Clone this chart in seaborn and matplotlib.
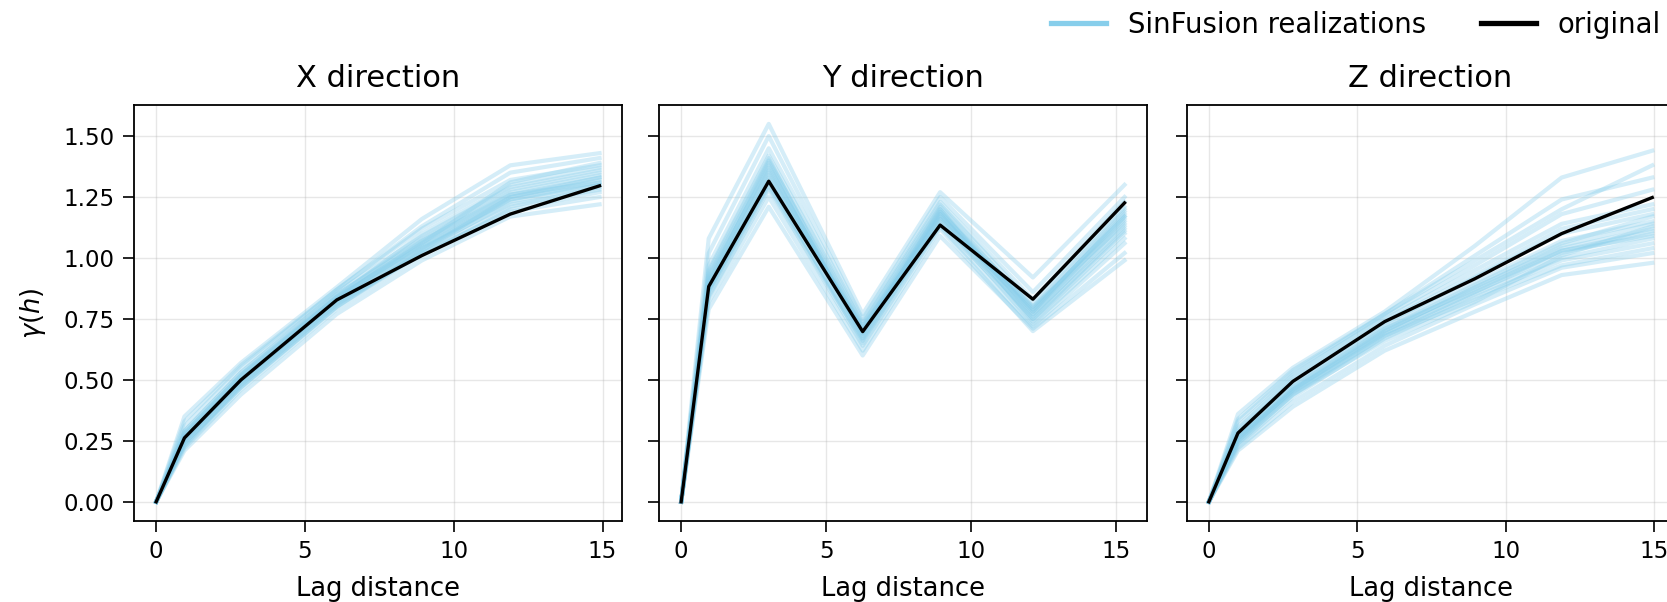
import numpy as np
import pandas as pd
import matplotlib
matplotlib.use("Agg")
import matplotlib.pyplot as plt
from matplotlib.lines import Line2D
import seaborn as sns

# ---------------- data ----------------
directions = ["X direction", "Y direction", "Z direction"]

lags_x = [0, 0.95, 2.85, 6.07, 8.93, 11.90, 14.90]
lags_y = [0, 0.95, 3.02, 6.26, 8.93, 12.13, 15.29]
lags_z = [0, 0.98, 2.83, 5.92, 8.96, 11.88, 14.93]

orig_x = [0, 0.262, 0.500, 0.828, 1.010, 1.180, 1.296]
orig_y = [0, 0.883, 1.315, 0.698, 1.135, 0.831, 1.226]
orig_z = [0, 0.282, 0.494, 0.739, 0.915, 1.100, 1.248]

real_x = [
    [0, 0.25, 0.49, 0.82, 1.04, 1.24, 1.31],
    [0, 0.27, 0.51, 0.84, 1.06, 1.26, 1.33],
    [0, 0.23, 0.47, 0.80, 1.02, 1.21, 1.29],
    [0, 0.29, 0.53, 0.86, 1.09, 1.29, 1.36],
    [0, 0.26, 0.50, 0.83, 1.05, 1.25, 1.32],
    [0, 0.24, 0.48, 0.81, 1.03, 1.23, 1.30],
    [0, 0.28, 0.52, 0.85, 1.08, 1.28, 1.35],
    [0, 0.22, 0.46, 0.79, 1.01, 1.20, 1.27],
    [0, 0.31, 0.55, 0.87, 1.12, 1.32, 1.38],
    [0, 0.35, 0.57, 0.88, 1.16, 1.38, 1.43],
    [0, 0.21, 0.44, 0.77, 0.99, 1.17, 1.22],
    [0, 0.26, 0.49, 0.83, 1.07, 1.27, 1.34],
    [0, 0.25, 0.51, 0.84, 1.05, 1.24, 1.30],
    [0, 0.27, 0.50, 0.82, 1.04, 1.22, 1.28],
    [0, 0.33, 0.56, 0.87, 1.13, 1.35, 1.41],
    [0, 0.24, 0.47, 0.80, 1.03, 1.25, 1.33],
    [0, 0.28, 0.52, 0.84, 1.10, 1.30, 1.37],
    [0, 0.23, 0.48, 0.81, 1.02, 1.19, 1.25],
    [0, 0.29, 0.53, 0.85, 1.07, 1.26, 1.31],
    [0, 0.26, 0.50, 0.83, 1.06, 1.31, 1.39],
]

real_y = [
    [0, 0.88, 1.33, 0.69, 1.17, 0.78, 1.18],
    [0, 0.90, 1.36, 0.71, 1.19, 0.80, 1.20],
    [0, 0.86, 1.30, 0.67, 1.15, 0.76, 1.15],
    [0, 0.93, 1.40, 0.72, 1.21, 0.79, 1.17],
    [0, 0.84, 1.28, 0.66, 1.14, 0.75, 1.12],
    [0, 0.95, 1.42, 0.73, 1.22, 0.81, 1.21],
    [0, 0.89, 1.35, 0.70, 1.18, 0.77, 1.16],
    [0, 0.91, 1.38, 0.68, 1.20, 0.74, 1.10],
    [0, 1.02, 1.50, 0.75, 1.25, 0.86, 1.25],
    [0, 1.08, 1.55, 0.77, 1.27, 0.92, 1.30],
    [0, 0.79, 1.21, 0.60, 1.09, 0.71, 1.02],
    [0, 0.87, 1.32, 0.65, 1.16, 0.73, 1.08],
    [0, 0.92, 1.37, 0.69, 1.19, 0.78, 1.19],
    [0, 0.85, 1.29, 0.64, 1.13, 0.72, 1.06],
    [0, 0.97, 1.45, 0.74, 1.23, 0.83, 1.23],
    [0, 0.88, 1.34, 0.70, 1.17, 0.80, 1.14],
    [0, 0.82, 1.25, 0.62, 1.12, 0.70, 0.99],
    [0, 0.90, 1.39, 0.71, 1.20, 0.77, 1.13],
    [0, 0.94, 1.41, 0.67, 1.18, 0.75, 1.11],
    [0, 0.87, 1.31, 0.72, 1.16, 0.79, 1.17],
]

real_z = [
    [0, 0.26, 0.46, 0.70, 0.88, 1.04, 1.12],
    [0, 0.24, 0.44, 0.68, 0.85, 1.00, 1.08],
    [0, 0.28, 0.48, 0.72, 0.90, 1.07, 1.15],
    [0, 0.22, 0.41, 0.64, 0.81, 0.96, 1.02],
    [0, 0.30, 0.51, 0.75, 0.95, 1.14, 1.22],
    [0, 0.25, 0.45, 0.69, 0.86, 1.02, 1.10],
    [0, 0.27, 0.47, 0.71, 0.89, 1.06, 1.17],
    [0, 0.33, 0.53, 0.77, 1.01, 1.24, 1.33],
    [0, 0.36, 0.55, 0.78, 1.05, 1.33, 1.44],
    [0, 0.21, 0.39, 0.62, 0.78, 0.93, 0.98],
    [0, 0.26, 0.47, 0.71, 0.87, 1.03, 1.09],
    [0, 0.29, 0.49, 0.73, 0.92, 1.10, 1.18],
    [0, 0.23, 0.43, 0.67, 0.84, 0.99, 1.06],
    [0, 0.31, 0.52, 0.76, 0.97, 1.18, 1.28],
    [0, 0.25, 0.46, 0.70, 0.88, 1.05, 1.14],
    [0, 0.27, 0.45, 0.68, 0.83, 0.97, 1.04],
    [0, 0.34, 0.54, 0.77, 0.99, 1.20, 1.38],
    [0, 0.24, 0.44, 0.66, 0.82, 1.01, 1.13],
    [0, 0.28, 0.50, 0.74, 0.93, 1.12, 1.20],
    [0, 0.26, 0.46, 0.69, 0.86, 1.03, 1.11],
]

yticks = [0.00, 0.25, 0.50, 0.75, 1.00, 1.25, 1.50]
xticks = [0, 5, 10, 15]

# ---------------- figure ----------------
W, H, DPI = 1667, 602, 100
fig = plt.figure(figsize=(W / DPI, H / DPI), dpi=DPI)

plt.rcParams["font.family"] = ["DejaVu Sans"]

axw = 487.7 / W
axh = 415.7 / H
axb = 81.3 / H
lefts = [134 / W, 659 / W, 1186.7 / W]

blue = "#87CEEB"
panels = [(lags_x, orig_x, real_x), (lags_y, orig_y, real_y), (lags_z, orig_z, real_z)]

axes = []
for i, (title, (lags, orig, real)) in enumerate(zip(directions, panels)):
    ax = fig.add_axes([lefts[i], axb, axw, axh])
    axes.append(ax)
    rows = []
    for r, vals in enumerate(real):
        for lag, v in zip(lags, vals):
            rows.append({"lag": lag, "gamma": v, "real": r})
    df = pd.DataFrame(rows)
    sns.lineplot(data=df, x="lag", y="gamma", units="real", estimator=None,
                 color=blue, alpha=0.35, lw=3.0, ax=ax, legend=False)
    dfo = pd.DataFrame({"lag": lags, "gamma": orig})
    sns.lineplot(data=dfo, x="lag", y="gamma", color="black", lw=2.4, ax=ax,
                 legend=False)
    ax.set_ylim(-0.0775, 1.6275)
    ax.set_yticks(yticks)
    ax.set_xticks(xticks)
    ax.grid(True, color="#b0b0b0", alpha=0.3, lw=1.0)
    ax.set_axisbelow(True)
    ax.set_title(title, fontsize=22, pad=13)
    ax.set_xlabel("Lag distance", fontsize=18.5, labelpad=9)
    ax.tick_params(labelsize=16.5, length=8, width=1.2, pad=6)
    for s in ax.spines.values():
        s.set_linewidth(1.3)
    if i == 0:
        ax.set_ylabel(r"$\gamma(h)$", fontsize=18.5, labelpad=11)
        ax.yaxis.set_major_formatter(matplotlib.ticker.FormatStrFormatter("%.2f"))
    else:
        ax.set_ylabel("")
        ax.set_yticklabels([])

handles = [Line2D([0], [0], color=blue, lw=3.8),
           Line2D([0], [0], color="black", lw=3.8)]
fig.legend(handles, ["SinFusion realizations", "original"], loc="upper right",
           bbox_to_anchor=(1672 / W, 1.0), ncol=2, frameon=False, fontsize=19.8,
           borderaxespad=0.0)

fig.savefig("out.png", dpi=DPI)
